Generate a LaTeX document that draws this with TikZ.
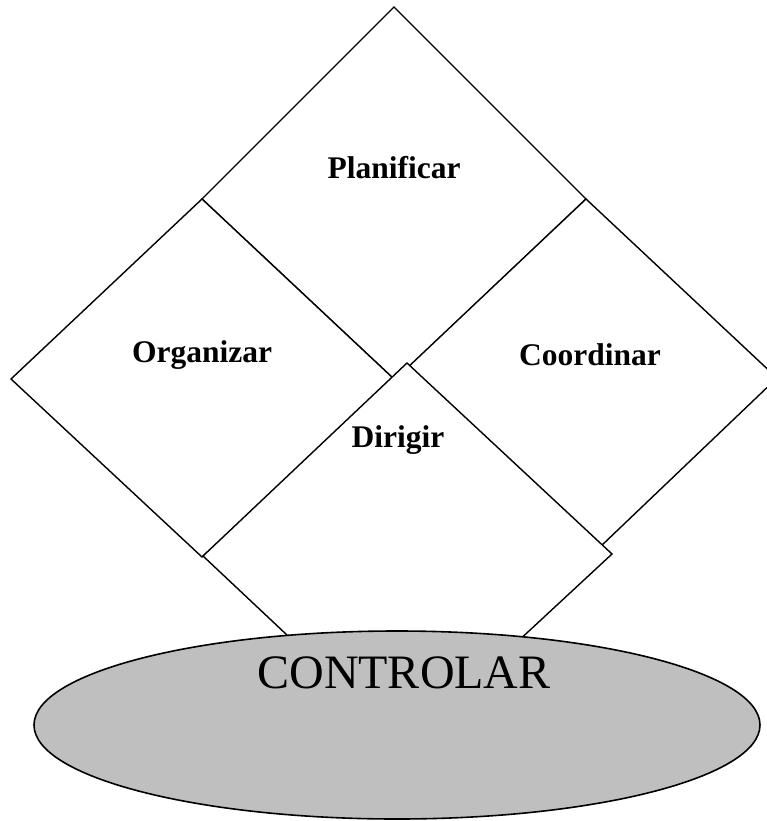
\documentclass[tikz,border=0pt]{standalone}
\usepackage{fontspec}
\setmainfont{Liberation Serif}
\usetikzlibrary{shapes.geometric}
\begin{document}
\begin{tikzpicture}[x=1pt,y=-1pt,
  face/.style={draw=black,fill=white,line width=1.4pt,line join=miter},
  label/.style={font=\fontsize{31.5}{34}\selectfont\bfseries,inner sep=0pt},
  base/.style={draw=black,fill=black!25,line width=1.6pt,ellipse,inner sep=0pt}]
\useasboundingbox (0,0) rectangle (767,821);
\clip (0,0) rectangle (767,821);
% four overlapping diamonds, back to front
\draw[face] (394,7) -- (586,199) -- (395,380) -- (202,199) -- cycle;
\draw[face] (202,199) -- (395,380) -- (202,557) -- (11,379) -- cycle;
\draw[face] (586,199) -- (777,378) -- (600,547) -- (405,370) -- cycle;
\draw[face] (407,363) -- (612,554) -- (405,746) -- (203,556) -- cycle;
% base ellipse
\node[base,minimum width=726pt,minimum height=188pt] (ctl) at (397,725) {};
\node[inner sep=0pt,font=\fontsize{48}{52}\selectfont] (ctltxt) at (404,673) {CONTROLAR};
\node[label] (plan) at (394,168) {Planificar};
\node[label] (org) at (202,355) {Organizar};
\node[label] (coord) at (590,355) {Coordinar};
\node[label] (dir) at (398,440) {Dirigir};
\end{tikzpicture}
\end{document}
